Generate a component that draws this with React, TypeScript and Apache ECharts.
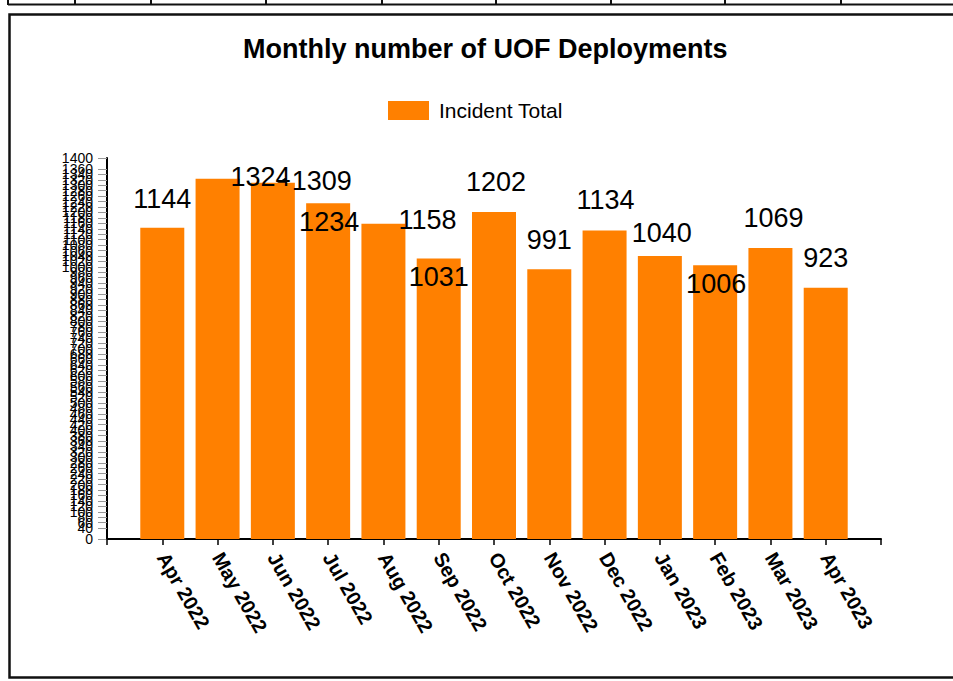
import React, { useEffect, useRef } from 'react';
import * as echarts from 'echarts';

const titleText = 'Monthly number of UOF Deployments';
const seriesName = 'Incident Total';
const months = [
  'Apr 2022', 'May 2022', 'Jun 2022', 'Jul 2022', 'Aug 2022', 'Sep 2022', 'Oct 2022',
  'Nov 2022', 'Dec 2022', 'Jan 2023', 'Feb 2023', 'Mar 2023', 'Apr 2023',
];
const incidentTotal = [1144, 1324, 1309, 1234, 1158, 1031, 1202, 991, 1134, 1040, 1006, 1069, 923];
const yMin = 0;
const yMax = 1400;
const yStep = 20;

// styling: label nudges reproducing the original label placement
const labelOffsets = [
  [0, 1], [43, 28], [49, 28], [1, 48], [44, 26], [0, 48], [2, 0],
  [0, 0], [1, -1], [2, 7], [1, 48], [3, -1], [0, 0],
];
const tableDividers = [8, 75, 151, 266, 382, 496, 611, 725, 841];

const FONT = '"Liberation Sans", Arial, sans-serif';

export default function App() {
  const ref = useRef<HTMLDivElement>(null);
  useEffect(() => {
    const chart = echarts.init(ref.current!, null, { renderer: 'svg' });
    const categories = ['', ...months, ''];
    const data: any[] = [
      '-',
      ...incidentTotal.map((v, i) => ({ value: v, label: { offset: labelOffsets[i] } })),
      '-',
    ];
    const graphics: any[] = [
      {
        type: 'rect',
        shape: { x: 9.5, y: 14.5, width: 960, height: 663 },
        style: { fill: 'none', stroke: '#111', lineWidth: 2.5 },
        silent: true,
      },
      {
        type: 'line',
        shape: { x1: 8, y1: 4.5, x2: 953, y2: 4.5 },
        style: { stroke: '#111', lineWidth: 2 },
        silent: true,
      },
      ...tableDividers.map((x) => ({
        type: 'line',
        shape: { x1: x, y1: 0, x2: x, y2: 5 },
        style: { stroke: '#111', lineWidth: 2 },
        silent: true,
      })),
      {
        type: 'polygon',
        shape: { points: [[277, 183], [285, 178], [285, 189]] },
        style: { fill: '#000' },
        silent: true,
      },
      {
        type: 'line',
        shape: { x1: 285.5, y1: 178, x2: 285.5, y2: 198 },
        style: { stroke: '#000', lineWidth: 1.5 },
        silent: true,
      },
    ];
    chart.setOption({
      animation: false,
      backgroundColor: '#fff',
      title: {
        text: titleText,
        left: 243,
        top: 35,
        padding: 0,
        textStyle: { fontFamily: FONT, fontSize: 27, fontWeight: 'bold', color: '#000' },
      },
      legend: {
        left: 388,
        top: 100,
        padding: 0,
        icon: 'rect',
        itemWidth: 41,
        itemHeight: 19,
        data: [seriesName],
        textStyle: { fontFamily: FONT, fontSize: 21, color: '#000', padding: [0, 0, 0, 5] },
      },
      grid: { left: 107, right: 72, top: 158, bottom: 142, containLabel: false },
      xAxis: {
        type: 'category',
        data: categories,
        boundaryGap: false,
        axisLine: { show: true, lineStyle: { color: '#000', width: 2 } },
        axisTick: { show: true, length: 6, interval: 0, lineStyle: { color: '#000', width: 1.5 } },
        axisLabel: {
          interval: 0,
          rotate: -60,
          margin: 15,
          fontFamily: FONT,
          fontSize: 20,
          fontWeight: 'bold',
          color: '#000',
        },
        splitLine: { show: false },
      },
      yAxis: {
        type: 'value',
        min: yMin,
        max: yMax,
        interval: yStep,
        axisLine: { show: true, lineStyle: { color: '#000', width: 2 } },
        axisTick: { show: true, length: 9, lineStyle: { color: '#999', width: 1 } },
        axisLabel: {
          margin: 14,
          fontFamily: FONT,
          fontSize: 14,
          color: '#000',
          showMinLabel: true,
          showMaxLabel: true,
          hideOverlap: false,
          formatter: (v: number) => String(v),
        },
        splitLine: { show: false },
      },
      series: [
        {
          name: seriesName,
          type: 'bar',
          data,
          barWidth: 44,
          itemStyle: { color: '#FF8000' },
          label: {
            show: true,
            position: 'top',
            distance: 16,
            fontFamily: FONT,
            fontSize: 27,
            color: '#000',
          },
        },
      ],
      graphic: graphics,
    });
    return () => chart.dispose();
  }, []);
  return (
    <div
      ref={ref}
      style={{ position: 'fixed', left: 0, top: 0, width: 953, height: 681, background: '#fff' }}
    />
  );
}
